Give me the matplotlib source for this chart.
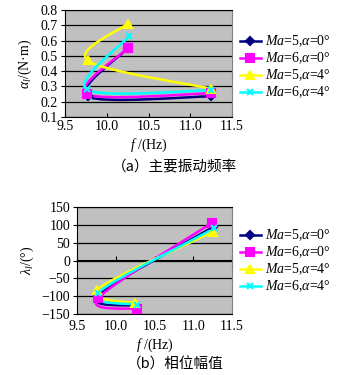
import matplotlib
matplotlib.use("Agg")
import matplotlib.pyplot as plt
import numpy as np
from matplotlib.path import Path
from matplotlib.patches import PathPatch
from matplotlib.lines import Line2D

plt.rcParams["font.family"] = ["Liberation Serif", "DejaVu Serif"]
plt.rcParams["mathtext.fontset"] = "custom"
plt.rcParams["mathtext.rm"] = "Liberation Serif"
plt.rcParams["mathtext.it"] = "Liberation Serif:italic"

# 系列名
labels = [r"$Ma$=5,$\alpha$=0°", r"$Ma$=6,$\alpha$=0°",
          r"$Ma$=5,$\alpha$=4°", r"$Ma$=6,$\alpha$=4°"]

# (a) 主要振动频率: 周波数 f と振幅
f_a = [
    [10.25, 9.77, 11.25],
    [10.25, 9.76, 11.25],
    [10.25, 9.77, 11.25],
    [10.27, 9.76, 11.25],
]
amp_a = [
    [0.55, 0.235, 0.235],
    [0.55, 0.25, 0.255],
    [0.71, 0.47, 0.285],
    [0.63, 0.28, 0.275],
]

# (b) 相位幅值: 周波数 f と位相
f_b = [
    [10.25, 9.77, 11.25],
    [10.27, 9.77, 11.24],
    [10.25, 9.76, 11.25],
    [10.27, 9.77, 11.27],
]
phase_b = [
    [-127, -98, 93],
    [-136, -106, 105],
    [-120, -82, 80],
    [-124, -91, 90],
]

colors = ["#000080", "#FF00FF", "#FFFF00", "#00FFFF"]
markers = ["D", "s", "^", "x"]
msizes = [4, 5.5, 6, 4.5]


def smooth_path(xs, ys, k=1.0 / 6.0):
    # Excel風の平滑線（Catmull-Rom を Bezier で表現）
    pts = np.column_stack([xs, ys]).astype(float)
    n = len(pts)
    verts = [pts[0]]
    codes = [Path.MOVETO]
    for i in range(n - 1):
        p0 = pts[max(i - 1, 0)]
        p1 = pts[i]
        p2 = pts[i + 1]
        p3 = pts[min(i + 2, n - 1)]
        verts += [p1 + (p2 - p0) * k, p2 - (p3 - p1) * k, p2]
        codes += [Path.CURVE4] * 3
    return Path(verts, codes)


def draw_series(ax, fs, vs):
    for x, y, c, m, ms in zip(fs, vs, colors, markers, msizes):
        ax.add_patch(PathPatch(smooth_path(x, y), facecolor="none",
                               edgecolor=c, lw=1.8, joinstyle="round",
                               capstyle="round", zorder=3))
        ax.plot(x, y, linestyle="none", marker=m, ms=ms, color=c,
                mec=c, mew=1.5, zorder=4)


def style_axes(ax):
    ax.set_facecolor("#C0C0C0")
    ax.yaxis.grid(True, color="black", lw=0.9)
    ax.set_axisbelow(True)
    for s in ["left", "bottom", "top"]:
        ax.spines[s].set_color("black")
    ax.spines["right"].set_color("#808080")
    ax.tick_params(labelsize=10, pad=2)


def add_legend(fig, yc):
    handles = [Line2D([], [], color=c, marker=m, ms=ms, lw=1.8, mew=1.5)
               for c, m, ms in zip(colors, markers, msizes)]
    fig.legend(handles, labels, loc="center left",
               bbox_to_anchor=(240 / 350, yc), frameon=False, fontsize=10,
               handlelength=1.5, handletextpad=0.3, labelspacing=0.1,
               borderpad=0, borderaxespad=0)


fig = plt.figure(figsize=(3.5, 3.75), dpi=100)

# (a)
ax1 = fig.add_axes([65 / 350, 1 - 117 / 375, 167 / 350, 107 / 375])
style_axes(ax1)
draw_series(ax1, f_a, amp_a)
ax1.set_xlim(9.5, 11.5)
ax1.set_ylim(0.1, 0.8)
ax1.set_xticks(np.arange(9.5, 11.51, 0.5))
ax1.set_xticklabels(["9.5", "10.0", "10.5", "11.0", "11.5"])
ax1.set_yticks(np.arange(0.1, 0.81, 0.1))
ax1.set_yticklabels([f"{v:.1f}" for v in np.arange(0.1, 0.81, 0.1)])
ax1.tick_params(axis="x", direction="in", length=3)
ax1.tick_params(axis="y", direction="out", length=3)
ax1.set_xlabel(r"$f$ /(Hz)", fontsize=10, labelpad=3)
ax1.set_ylabel(r"$\alpha_l$/(N·m)", fontsize=10, labelpad=5)
add_legend(fig, 1 - 67 / 375)

# (b)
ax2 = fig.add_axes([77 / 350, 1 - 314 / 375, 155 / 350, 107 / 375])
style_axes(ax2)
draw_series(ax2, f_b, phase_b)
ax2.set_xlim(9.5, 11.5)
ax2.set_ylim(-150, 150)
ax2.set_xticks(np.arange(9.5, 11.51, 0.5))
ax2.set_xticklabels(["9.5", "10.0", "10.5", "11.0", "11.5"])
ax2.set_yticks(np.arange(-150, 151, 50))
ax2.tick_params(axis="x", length=0, pad=4)
ax2.tick_params(axis="y", direction="out", length=3)
sec = ax2.secondary_xaxis(0.5)
sec.set_xticks(np.arange(9.5, 11.51, 0.5))
sec.tick_params(axis="x", direction="out", length=3, labeltop=False,
                labelbottom=False, color="black")
sec.spines["top"].set_color("black")
ax2.set_xlabel(r"$f$ /(Hz)", fontsize=10, labelpad=3)
ax2.set_ylabel(r"$\lambda_l$/(°)", fontsize=10, labelpad=4)
add_legend(fig, 1 - 261 / 375)

fig.text(0.5, 1 - 167 / 375, "（a）主要振动频率", ha="center", va="center",
         fontsize=10.5, family=["Noto Sans CJK SC", "DejaVu Sans"])
fig.text(0.5, 1 - 365 / 375, "（b）相位幅值", ha="center", va="center",
         fontsize=10.5, family=["Noto Sans CJK SC", "DejaVu Sans"])

fig.savefig("out.png", dpi=100)
